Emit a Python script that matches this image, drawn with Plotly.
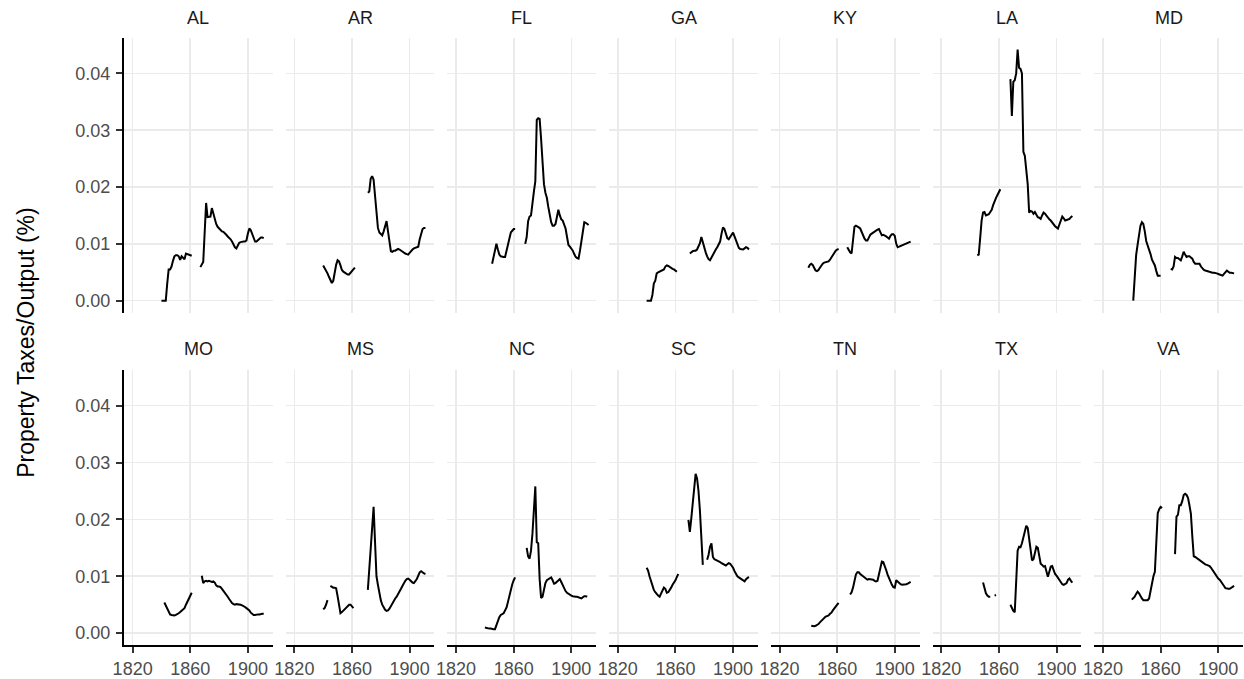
import plotly.graph_objects as go

# ---- data: (start year, annual values) segments per state ----
states = ["AL", "AR", "FL", "GA", "KY", "LA", "MD",
          "MO", "MS", "NC", "SC", "TN", "TX", "VA"]

AL = [(1840, [0.000, 0.000, 0.000, 0.000, 0.003, 0.0055, 0.0055, 0.006, 0.007, 0.0078, 0.008, 0.008,
              0.0078, 0.0072, 0.0078, 0.0075, 0.0073, 0.0083, 0.0082, 0.008, 0.008, 0.0079]),
      (1867, [0.0059, 0.0063, 0.0068, 0.0120, 0.0172, 0.0147, 0.0147, 0.0148, 0.0163, 0.0152, 0.0142,
              0.0135, 0.0130, 0.0127, 0.0124, 0.0122, 0.0121, 0.0119, 0.0116, 0.0113, 0.0111, 0.0108,
              0.0104, 0.0098, 0.0094, 0.0092, 0.0097, 0.0102, 0.0103, 0.0104, 0.0104, 0.0104, 0.0106,
              0.0118, 0.0127, 0.0124, 0.0118, 0.0110, 0.0104, 0.0104, 0.0107, 0.0109, 0.0111, 0.0111, 0.0110])]
AR = [(1840, [0.0062, 0.0058, 0.0053, 0.0048, 0.0042, 0.0036, 0.0031, 0.0035, 0.0050, 0.0063, 0.0071,
              0.0069, 0.0062, 0.0054, 0.0051, 0.0049, 0.0047, 0.0046, 0.0046, 0.0049, 0.0052, 0.0055, 0.0058]),
      (1871, [0.0190, 0.0192, 0.0215, 0.0219, 0.0213, 0.0180, 0.0150, 0.0128, 0.0120, 0.0117, 0.0115,
              0.0122, 0.0133, 0.0140, 0.0122, 0.0100, 0.0087, 0.0086, 0.0088, 0.0088, 0.0090, 0.0091,
              0.0090, 0.0088, 0.0086, 0.0085, 0.0083, 0.0082, 0.0081, 0.0084, 0.0088, 0.0090, 0.0092,
              0.0093, 0.0094, 0.0095, 0.0108, 0.0118, 0.0126, 0.0128, 0.0128])]
FL = [(1845, [0.0065, 0.0075, 0.0088, 0.0100, 0.0090, 0.0081, 0.0078, 0.0077, 0.0077, 0.0077, 0.0088,
              0.0097, 0.0110, 0.0120, 0.0123, 0.0126, 0.0126]),
      (1868, [0.0100, 0.0112, 0.0140, 0.0148, 0.0150, 0.0175, 0.0192, 0.0210, 0.0318, 0.0321, 0.0320,
              0.0285, 0.0245, 0.0205, 0.0190, 0.0181, 0.0165, 0.0150, 0.0138, 0.0132, 0.0132, 0.0135,
              0.0150, 0.0160, 0.0150, 0.0143, 0.0141, 0.0135, 0.0127, 0.0112, 0.0098, 0.0095, 0.0092,
              0.0088, 0.0082, 0.0077, 0.0075, 0.0074, 0.0088, 0.0103, 0.0120, 0.0138, 0.0137, 0.0134, 0.0133])]
GA = [(1840, [0.0, 0.0, 0.0, 0.0, 0.0010, 0.0030, 0.0035, 0.0048, 0.0050, 0.0051, 0.0052, 0.0053,
              0.0055, 0.0060, 0.0062, 0.0061, 0.0059, 0.0058, 0.0056, 0.0055, 0.0053, 0.0051]),
      (1870, [0.0083, 0.0086, 0.0087, 0.0088, 0.0088, 0.0090, 0.0095, 0.0101, 0.0112, 0.0102, 0.0092,
              0.0085, 0.0078, 0.0073, 0.0071, 0.0076, 0.0082, 0.0087, 0.0090, 0.0094, 0.0098, 0.0104,
              0.0118, 0.0129, 0.0126, 0.0118, 0.0110, 0.0108, 0.0112, 0.0118, 0.0120, 0.0113, 0.0106,
              0.0098, 0.0093, 0.0091, 0.0090, 0.0090, 0.0092, 0.0094, 0.0093, 0.0090])]
KY = [(1840, [0.0058, 0.0063, 0.0065, 0.0063, 0.0058, 0.0053, 0.0052, 0.0054, 0.0058, 0.0062, 0.0065,
              0.0067, 0.0068, 0.0069, 0.0069, 0.0072, 0.0076, 0.0080, 0.0085, 0.0088, 0.0090, 0.0091]),
      (1867, [0.0094, 0.0088, 0.0085, 0.0083, 0.0110, 0.0130, 0.0132, 0.0131, 0.0129, 0.0127, 0.0120,
              0.0113, 0.0109, 0.0106, 0.0106, 0.0111, 0.0116, 0.0118, 0.0120, 0.0121, 0.0123, 0.0125,
              0.0126, 0.0120, 0.0115, 0.0116, 0.0115, 0.0113, 0.0111, 0.0109, 0.0114, 0.0117, 0.0117,
              0.0114, 0.0100, 0.0094, 0.0095, 0.0096, 0.0097, 0.0098, 0.0099, 0.0100, 0.0101, 0.0103, 0.0104])]
LA = [(1845, [0.0080, 0.0081, 0.0110, 0.0141, 0.0155, 0.0156, 0.0150, 0.0151, 0.0152, 0.0156, 0.0160,
              0.0168, 0.0176, 0.0181, 0.0186, 0.0191, 0.0196]),
      (1868, [0.0390, 0.0325, 0.0385, 0.0388, 0.0400, 0.0442, 0.0410, 0.0408, 0.0400, 0.0262, 0.0255,
              0.0230, 0.0205, 0.0155, 0.0158, 0.0157, 0.0153, 0.0156, 0.0150, 0.0147, 0.0146, 0.0144,
              0.0150, 0.0155, 0.0153, 0.0149, 0.0146, 0.0143, 0.0141, 0.0137, 0.0133, 0.0131, 0.0129,
              0.0127, 0.0134, 0.0141, 0.0148, 0.0145, 0.0141, 0.0142, 0.0143, 0.0144, 0.0147, 0.0149])]
MD = [(1841, [0.0000, 0.0040, 0.0080, 0.0098, 0.0115, 0.0132, 0.0138, 0.0135, 0.0122, 0.0105, 0.0097,
              0.0090, 0.0082, 0.0072, 0.0066, 0.0062, 0.0052, 0.0044, 0.0044, 0.0044]),
      (1867, [0.0056, 0.0055, 0.0060, 0.0077, 0.0075, 0.0075, 0.0073, 0.0071, 0.0078, 0.0086, 0.0081,
              0.0077, 0.0078, 0.0078, 0.0076, 0.0074, 0.0068, 0.0065, 0.0065, 0.0065, 0.0065, 0.0060,
              0.0056, 0.0054, 0.0053, 0.0052, 0.0051, 0.0050, 0.0049, 0.0049, 0.0049, 0.0049, 0.0048,
              0.0047, 0.0046, 0.0045, 0.0044, 0.0047, 0.0050, 0.0053, 0.0051, 0.0049, 0.0049, 0.0048, 0.0048])]
MO = [(1842, [0.0054, 0.0048, 0.0043, 0.0037, 0.0033, 0.0032, 0.0031, 0.0031, 0.0032, 0.0033, 0.0035,
              0.0037, 0.0039, 0.0042, 0.0044, 0.0050, 0.0056, 0.0062, 0.0067, 0.0071]),
      (1868, [0.0101, 0.0088, 0.0091, 0.0092, 0.0091, 0.0092, 0.0091, 0.0090, 0.0091, 0.0089, 0.0084,
              0.0082, 0.0082, 0.0081, 0.0078, 0.0075, 0.0072, 0.0068, 0.0064, 0.0060, 0.0056, 0.0053,
              0.0051, 0.0050, 0.0051, 0.0051, 0.0050, 0.0050, 0.0049, 0.0048, 0.0046, 0.0044, 0.0042,
              0.0040, 0.0036, 0.0033, 0.0032, 0.0032, 0.0033, 0.0033, 0.0033, 0.0034, 0.0034, 0.0034])]
MS = [(1840, [0.0042, 0.0044, 0.0050, 0.0058]),
      (1845, [0.0083, 0.0081, 0.0080, 0.0080, 0.0079, 0.0065, 0.0048, 0.0035, 0.0037, 0.0040, 0.0043,
              0.0046, 0.0049, 0.0050, 0.0050, 0.0047, 0.0044]),
      (1871, [0.0076, 0.0113, 0.0149, 0.0186, 0.0222, 0.0160, 0.0100, 0.0085, 0.0068, 0.0058, 0.0050,
              0.0044, 0.0041, 0.0039, 0.0040, 0.0043, 0.0048, 0.0053, 0.0057, 0.0061, 0.0064, 0.0068,
              0.0072, 0.0078, 0.0083, 0.0088, 0.0092, 0.0095, 0.0096, 0.0094, 0.0091, 0.0089, 0.0088,
              0.0091, 0.0095, 0.0101, 0.0107, 0.0109, 0.0106, 0.0105, 0.0104])]
NC = [(1840, [0.0010, 0.0009, 0.0009, 0.0008, 0.0008, 0.0007, 0.0007, 0.0007, 0.0015, 0.0022, 0.0028,
              0.0032, 0.0034, 0.0035, 0.0040, 0.0045, 0.0055, 0.0066, 0.0076, 0.0086, 0.0093, 0.0098]),
      (1869, [0.0150, 0.0135, 0.0131, 0.0145, 0.0175, 0.0208, 0.0258, 0.0160, 0.0158, 0.0095, 0.0062,
              0.0064, 0.0080, 0.0088, 0.0093, 0.0095, 0.0097, 0.0098, 0.0093, 0.0087, 0.0088, 0.0091,
              0.0094, 0.0095, 0.0090, 0.0084, 0.0079, 0.0074, 0.0071, 0.0069, 0.0067, 0.0066, 0.0065,
              0.0064, 0.0064, 0.0064, 0.0063, 0.0062, 0.0061, 0.0063, 0.0065, 0.0065, 0.0064])]
SC = [(1840, [0.0115, 0.0110, 0.0100, 0.0091, 0.0082, 0.0076, 0.0072, 0.0068, 0.0066, 0.0064, 0.0070,
              0.0076, 0.0080, 0.0078, 0.0071, 0.0072, 0.0075, 0.0080, 0.0085, 0.0088, 0.0093, 0.0099, 0.0104]),
      (1869, [0.0199, 0.0178, 0.0202, 0.0230, 0.0258, 0.0280, 0.0272, 0.0250, 0.0215, 0.0170, 0.0120]),
      (1882, [0.0129, 0.0138, 0.0152, 0.0158, 0.0134, 0.0130, 0.0129, 0.0128, 0.0126, 0.0125, 0.0123,
              0.0122, 0.0120, 0.0119, 0.0121, 0.0123, 0.0122, 0.0119, 0.0115, 0.0109, 0.0104, 0.0100,
              0.0098, 0.0096, 0.0095, 0.0092, 0.0091, 0.0095, 0.0098, 0.0099])]
TN = [(1842, [0.0013, 0.0012, 0.0012, 0.0013, 0.0014, 0.0016, 0.0019, 0.0022, 0.0025, 0.0027, 0.0029,
              0.0030, 0.0031, 0.0034, 0.0036, 0.0040, 0.0044, 0.0047, 0.0050, 0.0053]),
      (1869, [0.0068, 0.0072, 0.0080, 0.0095, 0.0103, 0.0107, 0.0107, 0.0104, 0.0102, 0.0100, 0.0097,
              0.0095, 0.0094, 0.0095, 0.0095, 0.0095, 0.0094, 0.0092, 0.0091, 0.0092, 0.0105, 0.0118,
              0.0126, 0.0125, 0.0119, 0.0111, 0.0103, 0.0096, 0.0090, 0.0085, 0.0081, 0.0080, 0.0093,
              0.0090, 0.0088, 0.0086, 0.0085, 0.0085, 0.0086, 0.0086, 0.0087, 0.0089, 0.0090])]
TX = [(1849, [0.0089, 0.0080, 0.0070, 0.0066, 0.0064, 0.0064]),
      (1857, [0.0066, 0.0067]),
      (1868, [0.0050, 0.0044, 0.0039, 0.0037, 0.0090, 0.0145, 0.0152, 0.0151, 0.0158, 0.0168, 0.0180,
              0.0189, 0.0185, 0.0168, 0.0145, 0.0128, 0.0130, 0.0140, 0.0152, 0.0150, 0.0135, 0.0122,
              0.0120, 0.0117, 0.0118, 0.0110, 0.0099, 0.0108, 0.0117, 0.0118, 0.0110, 0.0104, 0.0101,
              0.0097, 0.0093, 0.0089, 0.0086, 0.0085, 0.0086, 0.0088, 0.0094, 0.0096, 0.0092, 0.0089])]
VA = [(1840, [0.0059, 0.0061, 0.0064, 0.0069, 0.0073, 0.0070, 0.0065, 0.0061, 0.0058, 0.0058, 0.0058,
              0.0058, 0.0061, 0.0075, 0.0088, 0.0100, 0.0108, 0.0160, 0.0211, 0.0218, 0.0222, 0.0220]),
      (1870, [0.0139, 0.0205, 0.0208, 0.0225, 0.0225, 0.0232, 0.0243, 0.0245, 0.0243, 0.0238, 0.0225,
              0.0210, 0.0170, 0.0135, 0.0134, 0.0132, 0.0130, 0.0128, 0.0126, 0.0125, 0.0123, 0.0121,
              0.0120, 0.0119, 0.0118, 0.0115, 0.0111, 0.0107, 0.0102, 0.0098, 0.0096, 0.0094, 0.0091,
              0.0088, 0.0083, 0.0079, 0.0078, 0.0078, 0.0078, 0.0080, 0.0082, 0.0083])]

series = {"AL": AL, "AR": AR, "FL": FL, "GA": GA, "KY": KY, "LA": LA, "MD": MD,
          "MO": MO, "MS": MS, "NC": NC, "SC": SC, "TN": TN, "TX": TX, "VA": VA}

x_ticks = [1820, 1860, 1900]
y_ticks = [0.00, 0.01, 0.02, 0.03, 0.04]
y_title = "Property Taxes/Output (%)"

# ---- layout geometry (pixels) ----
W, H = 1244, 679
LEFT0, STEP, PW = 114.0, 163.17, 150.0
ROWS = [(38.3, 313.5), (371.5, 647.0)]
STRIP_Y = [18.0, 350.0]
XR = [1814.0, 1917.2]
YR = [-0.0021, 0.0462]
FONT = "Liberation Sans, Arial, Helvetica, sans-serif"
TICK_FS, STRIP_FS, TITLE_FS = 18, 18, 23

fig = go.Figure()
layout = dict(width=W, height=H, autosize=False, margin=dict(l=0, r=0, t=0, b=0, pad=0),
              paper_bgcolor="white", plot_bgcolor="white", showlegend=False,
              font=dict(family=FONT))
annotations = []

for k, st in enumerate(states):
    r, c = divmod(k, 7)
    xs, ys = [], []
    for start, vals in series[st]:
        if xs:
            xs.append(None)
            ys.append(None)
        xs += list(range(start, start + len(vals)))
        ys += vals
    n = k + 1
    sfx = "" if n == 1 else str(n)
    fig.add_trace(go.Scatter(x=xs, y=ys, mode="lines", connectgaps=False,
                             line=dict(color="black", width=2),
                             xaxis="x" + sfx, yaxis="y" + sfx, hoverinfo="skip"))
    x0 = LEFT0 + STEP * c
    x1 = x0 + PW
    top, bot = ROWS[r]
    bottom_row = (r == 1)
    left_col = (c == 0)
    layout["xaxis" + sfx] = dict(
        domain=[x0 / W, x1 / W], anchor="y" + sfx, range=XR,
        tickvals=x_ticks, showgrid=True, gridcolor="#ebebeb", gridwidth=1.6,
        zeroline=False, showticklabels=bottom_row, showline=bottom_row,
        linecolor="black", linewidth=2,
        ticks="outside" if bottom_row else "", ticklen=6, tickwidth=2, tickcolor="#333333",
        tickfont=dict(size=TICK_FS, color="#4d4d4d", family=FONT), fixedrange=True)
    layout["yaxis" + sfx] = dict(
        domain=[1 - bot / H, 1 - top / H], anchor="x" + sfx, range=YR,
        tickvals=y_ticks, tickformat=".2f", showgrid=True, gridcolor="#ebebeb", gridwidth=1.6,
        zeroline=False, showticklabels=left_col, showline=left_col,
        linecolor="black", linewidth=2, ticklabelstandoff=2,
        ticks="outside" if left_col else "", ticklen=6, tickwidth=2, tickcolor="#333333",
        tickfont=dict(size=TICK_FS, color="#4d4d4d", family=FONT), fixedrange=True)
    annotations.append(dict(text=st, x=(x0 + x1) / 2 / W, y=1 - STRIP_Y[r] / H,
                            xref="paper", yref="paper", showarrow=False,
                            xanchor="center", yanchor="middle",
                            font=dict(size=STRIP_FS, color="#1a1a1a", family=FONT)))

annotations.append(dict(text=y_title, x=15 / W, y=1 - 343 / H, xref="paper", yref="paper",
                        showarrow=False, textangle=-90, xanchor="center", yanchor="middle",
                        font=dict(size=TITLE_FS, color="black", family=FONT)))
layout["annotations"] = annotations
fig.update_layout(**layout)
fig.write_html("out.html", config={"displayModeBar": False, "staticPlot": True},
               post_script="document.body.style.margin='0px';"
                           "document.body.style.padding='0px';"
                           "document.body.style.overflow='hidden';")
